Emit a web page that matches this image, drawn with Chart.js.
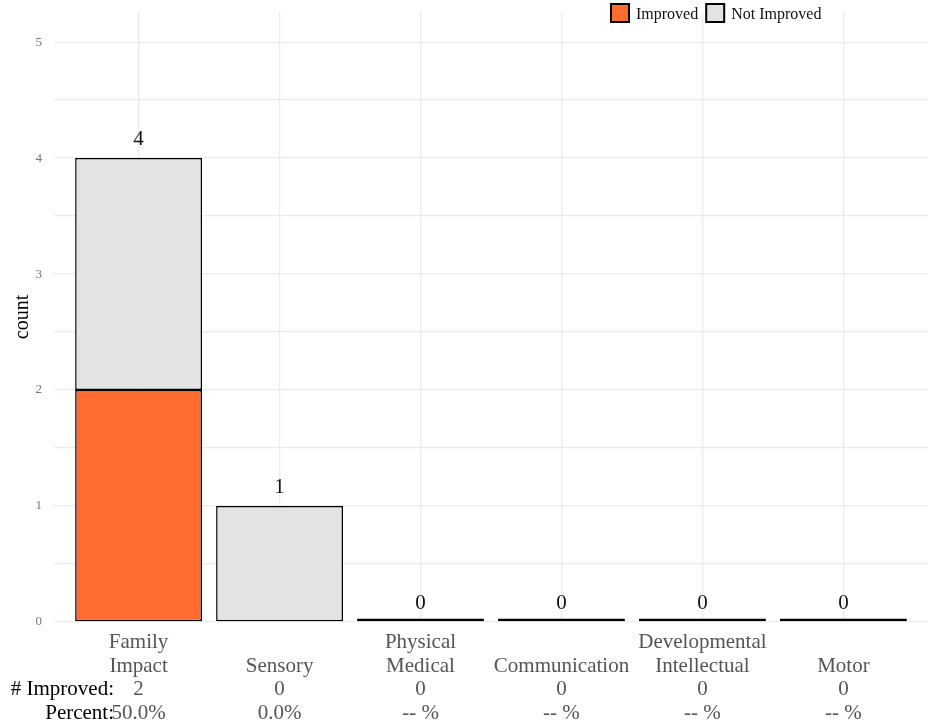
<!DOCTYPE html>
<html>
<head>
<meta charset="utf-8">
<script src="https://cdn.jsdelivr.net/npm/chart.js@4"></script>
<style>
  html, body { margin: 0; padding: 0; background: #fff; }
  #wrap { width: 931px; height: 727px; }
</style>
</head>
<body>
<div id="wrap"><canvas id="chart1"></canvas></div>
<script>
const categories = [['Family', 'Impact'], ['', 'Sensory'], ['Physical', 'Medical'], ['', 'Communication'], ['Developmental', 'Intellectual'], ['', 'Motor']];
const improved = [2, 0, 0, 0, 0, 0];
const notImproved = [2, 1, 0, 0, 0, 0];
const percentLabels = ['50.0%', '0.0%', '-- %', '-- %', '-- %', '-- %'];
const seriesNames = ['Improved', 'Not Improved'];
const seriesColors = ['#FF6C2F', '#E3E3E3'];
const rowNames = ['# Improved:', 'Percent:'];

const FONT = "'Liberation Serif', 'Times New Roman', serif";
const LINE_H = 23.5;
const LABEL_PAD = 9;

// totals above each stack
const totalsPlugin = {
  id: 'totals',
  afterDatasetsDraw(chart) {
    const ctx = chart.ctx;
    const x = chart.scales.x, y = chart.scales.y;
    ctx.save();
    ctx.fillStyle = '#111';
    ctx.font = '21px ' + FONT;
    ctx.textAlign = 'center';
    ctx.textBaseline = 'alphabetic';
    improved.forEach((v, i) => {
      const total = v + notImproved[i];
      ctx.fillText(String(total), x.getPixelForValue(i), y.getPixelForValue(total) - 13);
    });
    ctx.restore();
  }
};

// row names left of the table rows + legend at top
const extrasPlugin = {
  id: 'extras',
  afterDraw(chart) {
    const ctx = chart.ctx;
    const x = chart.scales.x;
    ctx.save();
    ctx.fillStyle = '#000';
    ctx.font = '21px ' + FONT;
    ctx.textAlign = 'right';
    ctx.textBaseline = 'middle';
    rowNames.forEach((t, k) => {
      ctx.fillText(t, 114, x.top + LABEL_PAD + LINE_H * (2 + k) + LINE_H / 2);
    });

    // legend
    let lx = 611;
    const ly = 4, box = 18;
    ctx.font = '16px ' + FONT;
    ctx.textAlign = 'left';
    seriesNames.forEach((name, i) => {
      ctx.fillStyle = seriesColors[i];
      ctx.fillRect(lx, ly, box, box);
      ctx.strokeStyle = '#000';
      ctx.lineWidth = 2;
      ctx.strokeRect(lx, ly, box, box);
      ctx.fillStyle = '#111';
      ctx.fillText(name, lx + box + 7, ly + box / 2 + 2);
      lx += box + 7 + ctx.measureText(name).width + 8;
    });
    ctx.restore();
  }
};

const ctx = document.getElementById('chart1');

const myChart1 = new Chart(ctx, {
  type: 'bar',
  data: {
    datasets: [
      {
        label: seriesNames[0],
        data: improved.map((v, i) => ({ x: i, y: v })),
        backgroundColor: seriesColors[0],
        borderColor: '#000',
        borderWidth: 1.5,
        borderSkipped: false
      },
      {
        label: seriesNames[1],
        data: notImproved.map((v, i) => ({ x: i, y: v })),
        backgroundColor: seriesColors[1],
        borderColor: '#000',
        borderWidth: 1.5,
        borderSkipped: false,
        minBarLength: 3.5
      }
    ]
  },
  options: {
    responsive: true,
    maintainAspectRatio: false,
    animation: false,
    layout: { padding: { left: 0, right: 3, top: 12, bottom: 0 } },
    datasets: { bar: { barPercentage: 1, categoryPercentage: 0.9 } },
    plugins: {
      legend: { display: false },
      tooltip: { enabled: false }
    },
    scales: {
      x: {
        type: 'linear',
        stacked: true,
        offset: false,
        min: -0.6,
        max: 5.6,
        border: { display: false },
        grid: { color: '#EBEBEB', lineWidth: 1.3, drawTicks: false, offset: false },
        afterBuildTicks(scale) {
          scale.ticks = categories.map((c, i) => ({ value: i }));
        },
        afterFit(scale) { scale.height = 105; },
        ticks: {
          padding: LABEL_PAD,
          maxRotation: 0,
          autoSkip: false,
          color: '#555',
          font: { family: FONT, size: 21, lineHeight: LINE_H / 21 },
          callback: (v) => categories[v].concat([String(improved[v]), percentLabels[v]])
        }
      },
      y: {
        stacked: true,
        min: 0,
        max: 5.26,
        border: { display: false },
        grid: { color: '#EBEBEB', lineWidth: 1.3, drawTicks: false },
        afterBuildTicks(scale) {
          scale.ticks = scale.ticks.filter(t => Math.abs(t.value * 2 - Math.round(t.value * 2)) < 1e-9);
        },
        afterFit(scale) {
          scale.width = 54;
          scale.paddingTop = 0;
          scale.paddingBottom = 0;
        },
        title: {
          display: true,
          text: 'count',
          color: '#000',
          font: { family: FONT, size: 20 },
          padding: { top: 11, bottom: 4 }
        },
        ticks: {
          stepSize: 0.5,
          padding: 12,
          color: '#777',
          font: { family: FONT, size: 13 },
          callback: (v) => Number.isInteger(v) ? String(v) : ''
        }
      }
    }
  },
  plugins: [totalsPlugin, extrasPlugin]
});
</script>
</body>
</html>
